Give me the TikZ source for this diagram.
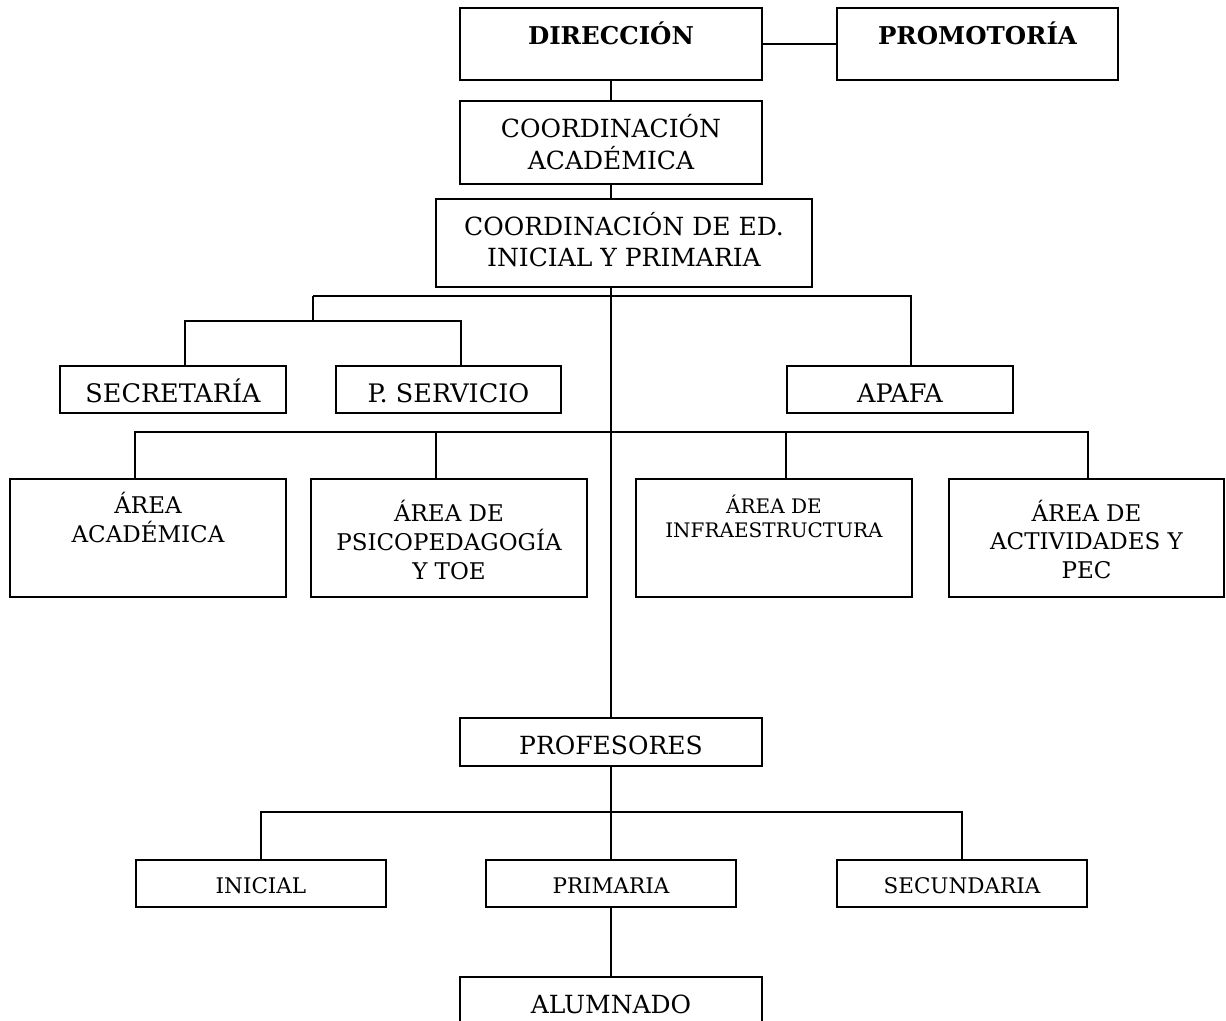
\documentclass[tikz,border=0pt]{standalone}
\usepackage{fontspec}
\setmainfont{DejaVu Serif}
\newcommand{\twol}[2]{\begin{tabular}[t]{@{}c@{}}#1\\#2\end{tabular}}
\newcommand{\threel}[3]{\begin{tabular}[t]{@{}c@{}}#1\\#2\\#3\end{tabular}}
\begin{document}
\begin{tikzpicture}[x=1pt,y=-1pt,line width=2pt,
  box/.style={draw, rectangle, inner sep=0pt, anchor=north, line width=2pt},
  fbold/.style={font=\fontsize{24.5}{31}\selectfont\bfseries},
  fbig/.style={font=\fontsize{25}{31}\selectfont},
  fmid/.style={font=\fontsize{25.5}{31}\selectfont},
  farea/.style={font=\fontsize{23}{28.5}\selectfont},
  fsmall/.style={font=\fontsize{20}{24}\selectfont},
  fbot/.style={font=\fontsize{21.5}{26}\selectfont},
  conn/.style={line width=2pt}]
\useasboundingbox (0,0) rectangle (1226,1020);
\clip (0,0) rectangle (1226,1020);
\fill[white] (0,0) rectangle (1226,1020);

% top
\node[box, fbold, minimum width=302pt, text height=36pt, text depth=36pt] (dir) at (611,7) {DIRECCIÓN};
\node[box, fbold, minimum width=281pt, text height=36pt, text depth=36pt] (prom) at (977.5,7) {PROMOTORÍA};
\node[box, fbig, minimum width=302pt, text height=36pt, text depth=47pt] (ca) at (611,100) {\twol{COORDINACIÓN}{ACADÉMICA}};
\node[box, fbig, minimum width=376pt, text height=36pt, text depth=52pt] (ced) at (624,198) {\twol{COORDINACIÓN DE ED.}{INICIAL Y PRIMARIA}};

% second level
\node[box, fmid, minimum width=226pt, text height=36pt, text depth=11pt] (sec) at (173,365) {SECRETARÍA};
\node[box, fmid, minimum width=225pt, text height=36pt, text depth=11pt] (psrv) at (448.5,365) {P. SERVICIO};
\node[box, fmid, minimum width=226pt, text height=36pt, text depth=11pt] (apafa) at (900,365) {APAFA};

% areas
\node[box, farea, minimum width=276pt, text height=34pt, text depth=84pt] (aa) at (148,478) {\twol{ÁREA}{ACADÉMICA}};
\node[box, farea, minimum width=276pt, text height=42pt, text depth=76pt] (psi) at (449,478) {\threel{ÁREA DE}{PSICOPEDAGOGÍA}{Y TOE}};
\node[box, fsmall, minimum width=276pt, text height=34pt, text depth=84pt] (infra) at (774,478) {\twol{ÁREA DE}{INFRAESTRUCTURA}};
\node[box, farea, minimum width=275pt, text height=42pt, text depth=76pt] (pec) at (1086.5,478) {\threel{ÁREA DE}{ACTIVIDADES Y}{PEC}};

% bottom
\node[box, fbig, minimum width=302pt, text height=36pt, text depth=12pt] (prof) at (611,717) {PROFESORES};
\node[box, fbot, minimum width=250pt, text height=33pt, text depth=14pt] (ini) at (261,859) {INICIAL};
\node[box, fbot, minimum width=250pt, text height=33pt, text depth=14pt] (prim) at (611,859) {PRIMARIA};
\node[box, fbot, minimum width=250pt, text height=33pt, text depth=14pt] (secu) at (962,859) {SECUNDARIA};
\node[box, fbig, minimum width=302pt, text height=36pt, text depth=50pt] (alum) at (611,976) {ALUMNADO};

% connector points
\coordinate (t1) at (313,296);
\coordinate (t2) at (313,321);
\coordinate (secIn) at (185,365);
\coordinate (psIn) at (461,365);
\coordinate (apIn) at (911,365);
\coordinate (bar) at (611,432);
\coordinate (aaIn) at (135,478);
\coordinate (psiIn) at (436,478);
\coordinate (infIn) at (786,478);
\coordinate (pecIn) at (1088,478);
\coordinate (pb) at (611,812);

% connectors
\draw[conn] (dir.east) -- (prom.west);
\draw[conn] (dir.south) -- (ca.north);
\draw[conn] (ca.south) -- (ca.south |- ced.north);
\draw[conn] (ca.south |- ced.south) -- (prof.north);
\draw[conn] (t1) -| (apIn);
\draw[conn] (t1) -- (t2);
\draw[conn] (secIn) |- (t2) -| (psIn);
\draw[conn] (aaIn) |- (bar) -| (pecIn);
\draw[conn] (psiIn) -- (psiIn |- bar);
\draw[conn] (infIn) -- (infIn |- bar);
\draw[conn] (prof.south) -- (prim.north);
\draw[conn] (ini.north) |- (pb) -| (secu.north);
\draw[conn] (prim.south) -- (alum.north);
\end{tikzpicture}
\end{document}
